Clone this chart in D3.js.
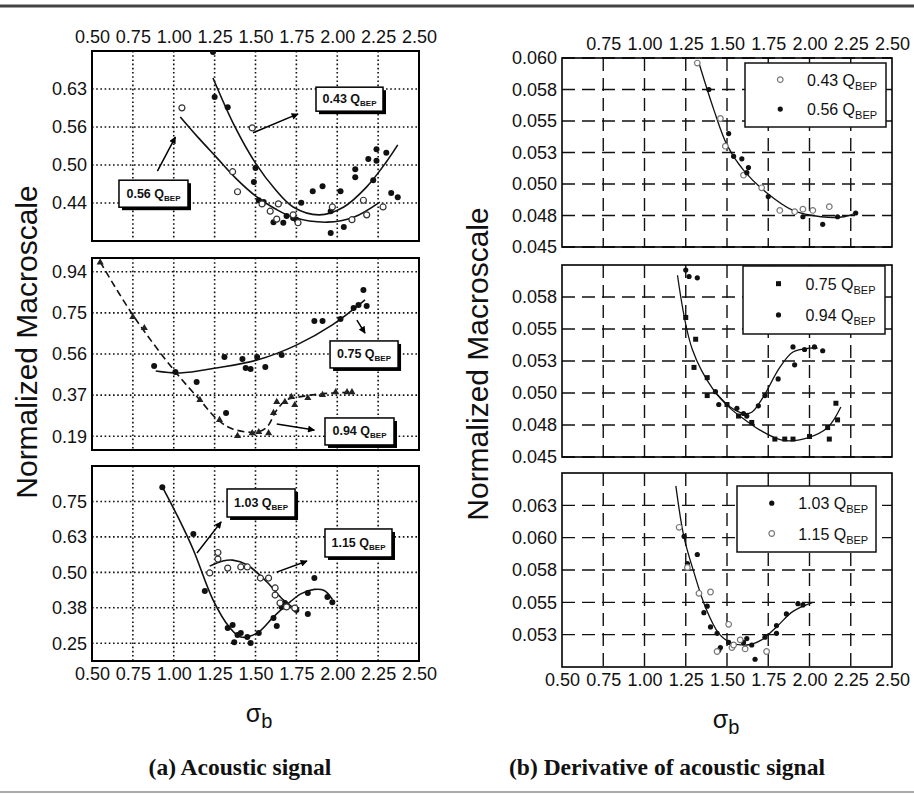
<!DOCTYPE html>
<html>
<head>
<meta charset="utf-8">
<script src="https://cdn.jsdelivr.net/npm/d3@7"></script>
<style>
  body { margin: 0; background: #fff; }
  svg { display: block; }
</style>
</head>
<body>
<script>
// sigma_b axis (shared by all six panels)
var sigmaTicks  = [0.5, 0.75, 1.0, 1.25, 1.5, 1.75, 2.0, 2.25, 2.5];
var sigmaLabels = ["0.50","0.75","1.00","1.25","1.50","1.75","2.00","2.25","2.50"];

// ---- (a) acoustic signal ----
var a1Ticks  = [0.4375, 0.5, 0.5625, 0.625];
var a1Labels = ["0.44", "0.50", "0.56", "0.63"];
var a1Q043 = [[1.24,0.686],[1.25,0.612],[1.33,0.595],[1.50,0.495],[1.49,0.472],[1.52,0.442],[1.55,0.439],
  [1.61,0.406],[1.67,0.405],[1.69,0.416],[1.73,0.413],[1.75,0.410],[1.78,0.438],[1.85,0.457],[1.91,0.465],
  [1.96,0.424],[1.96,0.388],[2.02,0.457],[2.04,0.398],[2.11,0.493],[2.11,0.480],[2.19,0.510],[2.24,0.526],
  [2.24,0.507],[2.30,0.520],[2.22,0.475],[2.33,0.454],[2.37,0.447]];
var a1Q043Fit = [[1.24,0.643],[1.37,0.565],[1.50,0.503],[1.62,0.460],[1.73,0.431],[1.89,0.418],
  [2.04,0.431],[2.18,0.464],[2.30,0.505],[2.37,0.533]];
var a1Q056 = [[1.05,0.594],[1.48,0.561],[1.36,0.489],[1.39,0.456],[1.54,0.436],[1.59,0.424],[1.64,0.436],
  [1.63,0.411],[1.73,0.418],[1.76,0.405],[1.97,0.431],[2.09,0.410],[2.16,0.442],[2.18,0.418],[2.28,0.431]];
var a1Q056Fit = [[1.04,0.579],[1.15,0.545],[1.26,0.513],[1.38,0.478],[1.51,0.447],[1.62,0.428],
  [1.73,0.414],[1.94,0.406],[2.10,0.414],[2.26,0.439]];

var a2Ticks  = [0.1875, 0.375, 0.5625, 0.75, 0.9375];
var a2Labels = ["0.19", "0.37", "0.56", "0.75", "0.94"];
var a2Q075 = [[0.88,0.508],[1.01,0.480],[1.14,0.435],[1.32,0.294],[1.31,0.549],[1.42,0.540],[1.44,0.499],
  [1.47,0.494],[1.51,0.549],[1.56,0.503],[1.66,0.558],[1.86,0.713],[1.91,0.713],[2.02,0.722],[2.10,0.772],
  [2.13,0.786],[2.16,0.854],[2.18,0.781]];
var a2Q075Fit = [[0.89,0.485],[1.04,0.476],[1.26,0.499],[1.51,0.535],[1.75,0.603],[1.97,0.695],[2.17,0.809]];
var a2Q094 = [[0.55,0.980],[0.75,0.731],[0.82,0.681],[1.16,0.353],[1.28,0.262],[1.39,0.189],[1.48,0.202],
  [1.52,0.207],[1.58,0.202],[1.61,0.294],[1.63,0.344],[1.68,0.344],[1.72,0.367],[1.74,0.330],[1.82,0.362],
  [1.91,0.376],[1.99,0.389],[2.06,0.389],[2.09,0.389]];
var a2Q094Fit = [[0.55,0.982],[0.75,0.740],[1.00,0.490],[1.16,0.353],[1.27,0.262],[1.36,0.221],[1.51,0.207],
  [1.57,0.230],[1.63,0.307],[1.69,0.353],[1.77,0.367],[1.89,0.380],[2.10,0.389]];

var a3Ticks  = [0.25, 0.375, 0.5, 0.625, 0.75];
var a3Labels = ["0.25", "0.38", "0.50", "0.63", "0.75"];
var a3Q103 = [[0.93,0.800],[1.12,0.635],[1.19,0.434],[1.33,0.304],[1.36,0.314],[1.37,0.254],[1.39,0.279],
  [1.41,0.286],[1.45,0.272],[1.47,0.251],[1.52,0.286],[1.61,0.339],[1.63,0.311],[1.66,0.378],[1.68,0.392],
  [1.75,0.367],[1.82,0.353],[1.86,0.480],[1.82,0.427],[1.94,0.413],[1.97,0.395]];
var a3Q103Fit = [[0.93,0.801],[1.03,0.690],[1.12,0.579],[1.24,0.403],[1.34,0.307],[1.41,0.272],[1.51,0.286],
  [1.61,0.343],[1.71,0.395],[1.78,0.425],[1.86,0.440],[1.92,0.436],[1.97,0.405]];
var a3Q115 = [[1.22,0.498],[1.27,0.570],[1.27,0.547],[1.33,0.515],[1.41,0.519],[1.45,0.519],[1.53,0.480],
  [1.58,0.480],[1.62,0.445],[1.62,0.420],[1.65,0.392],[1.69,0.378],[1.74,0.374]];
var a3Q115Fit = [[1.22,0.522],[1.30,0.540],[1.36,0.543],[1.45,0.526],[1.57,0.466],[1.67,0.403],[1.75,0.367]];

// ---- (b) derivative of acoustic signal ----
var b1Ticks  = [0.045, 0.0475, 0.05, 0.0525, 0.055, 0.0575, 0.06];
var b1Labels = ["0.045","0.048","0.050","0.053","0.055","0.058","0.060"];
var b1Q043 = [[1.32,0.0596],[1.46,0.0552],[1.49,0.0530],[1.60,0.0507],[1.71,0.0497],[1.82,0.0479],
  [1.91,0.0478],[1.96,0.0480],[2.02,0.0479],[2.12,0.0482]];
var b1Q056 = [[1.39,0.0575],[1.51,0.0540],[1.54,0.0522],[1.59,0.0520],[1.63,0.0513],[1.62,0.0509],
  [1.75,0.0490],[1.96,0.0474],[2.08,0.0468],[2.17,0.0474],[2.28,0.0477]];
var b1Fit = [[1.33,0.0596],[1.42,0.0559],[1.50,0.0531],[1.60,0.0511],[1.74,0.0493],[1.90,0.0479],
  [2.07,0.0474],[2.21,0.0474],[2.28,0.0477]];

var b2Ticks  = [0.045, 0.0475, 0.05, 0.0525, 0.055, 0.0575];
var b2Labels = ["0.045","0.048","0.050","0.053","0.055","0.058"];
var b2Q075 = [[1.25,0.0559],[1.31,0.0542],[1.30,0.0520],[1.38,0.0512],[1.38,0.0498],[1.50,0.0491],
  [1.57,0.0482],[1.65,0.0477],[1.79,0.0464],[1.85,0.0464],[1.90,0.0464],[2.00,0.0466],[2.11,0.0473],
  [2.12,0.0464],[2.17,0.0479],[2.16,0.0492]];
var b2Q075Fit = [[1.20,0.0592],[1.29,0.0534],[1.42,0.0502],[1.52,0.0488],[1.62,0.0478],[1.70,0.0471],
  [1.84,0.0463],[1.99,0.0465],[2.11,0.0473],[2.19,0.0489]];
var b2Q094 = [[1.25,0.0596],[1.27,0.0591],[1.32,0.0590],[1.43,0.0501],[1.45,0.0491],[1.56,0.0488],
  [1.60,0.0484],[1.62,0.0482],[1.69,0.0490],[1.73,0.0498],[1.81,0.0511],[1.90,0.0536],[1.91,0.0522],
  [1.97,0.0534],[2.03,0.0536],[2.08,0.0533]];
var b2Q094Fit = [[1.42,0.0502],[1.52,0.0489],[1.60,0.0484],[1.65,0.0485],[1.72,0.0497],[1.82,0.0520],
  [1.90,0.0532],[2.00,0.0535],[2.05,0.0535]];

var b3Ticks  = [0.0525, 0.055, 0.0575, 0.06, 0.0625];
var b3Labels = ["0.053","0.055","0.058","0.060","0.063"];
var b3Q103 = [[1.24,0.0601],[1.26,0.0580],[1.32,0.0587],[1.36,0.0542],[1.38,0.0547],[1.40,0.0531],
  [1.44,0.0526],[1.45,0.0513],[1.46,0.0515],[1.51,0.0519],[1.60,0.0519],[1.62,0.0522],[1.65,0.0517],
  [1.67,0.0506],[1.73,0.0523],[1.80,0.0526],[1.80,0.0532],[1.86,0.0541],[1.93,0.0549],[1.96,0.0548]];
var b3Q115 = [[1.21,0.0608],[1.26,0.0577],[1.33,0.0557],[1.40,0.0558],[1.51,0.0533],[1.44,0.0512],
  [1.53,0.0515],[1.54,0.0517],[1.58,0.0521],[1.61,0.0514],[1.74,0.0512]];
var b3Fit = [[1.19,0.0640],[1.24,0.0600],[1.30,0.0573],[1.37,0.0546],[1.45,0.0526],[1.52,0.0519],
  [1.62,0.0517],[1.71,0.0521],[1.80,0.0531],[1.90,0.0543],[2.02,0.0550]];

// -------------------------------------------------------------------------
var svg = d3.select("body").append("svg").attr("width", 914).attr("height", 796);
var FONT = "'Liberation Sans', Arial, sans-serif";

// arrow head for the callouts
svg.append("defs").append("marker")
  .attr("id", "head").attr("viewBox", "0 0 10 10")
  .attr("refX", 9).attr("refY", 5)
  .attr("markerWidth", 9).attr("markerHeight", 7)
  .attr("markerUnits", "userSpaceOnUse").attr("orient", "auto")
  .append("path").attr("d", "M0,0 L10,5 L0,10 Z").attr("fill", "#000");

// frame lines
svg.append("line").attr("x1", 0).attr("x2", 914).attr("y1", 6).attr("y2", 6)
  .attr("stroke", "#444").attr("stroke-width", 3);
svg.append("line").attr("x1", 0).attr("x2", 914).attr("y1", 792).attr("y2", 792)
  .attr("stroke", "#aaa").attr("stroke-width", 2);

var panels = [
  {id:"a1", left:92, right:419, top:51, bottom:241, yDomain:[0.375,0.6875], ticks:a1Ticks, labels:a1Labels,
   xTop:sigmaTicks, grid:"dot",
   series:[{pts:a1Q043, fit:a1Q043Fit, mk:"dot"}, {pts:a1Q056, fit:a1Q056Fit, mk:"open"}],
   notes:[{q:"0.43", at:[1.87,0.628], w:67, h:24, arrow:[[1.485,0.553],[1.76,0.584]]},
          {q:"0.56", at:[0.665,0.475], w:69, h:27, arrow:[[0.90,0.490],[1.01,0.546]]}]},
  {id:"a2", left:92, right:419, top:258, bottom:450, yDomain:[0.125,1.0], ticks:a2Ticks, labels:a2Labels,
   grid:"dot",
   series:[{pts:a2Q075, fit:a2Q075Fit, mk:"dot"}, {pts:a2Q094, fit:a2Q094Fit, mk:"tri", dash:"7,4"}],
   notes:[{q:"0.75", at:[1.956,0.622], w:68, h:27, arrow:[[2.12,0.717],[2.17,0.658]]},
          {q:"0.94", at:[1.925,0.271], w:69, h:27, arrow:[[1.63,0.243],[1.86,0.216]]}]},
  {id:"a3", left:92, right:419, top:466, bottom:661, yDomain:[0.1875,0.875], ticks:a3Ticks, labels:a3Labels,
   xBottom:sigmaTicks, grid:"dot",
   series:[{pts:a3Q103, fit:a3Q103Fit, mk:"dot"}, {pts:a3Q115, fit:a3Q115Fit, mk:"open"}],
   notes:[{q:"1.03", at:[1.326,0.794], w:68, h:28, arrow:[[1.142,0.568],[1.29,0.678]]},
          {q:"1.15", at:[1.925,0.653], w:67, h:28, arrow:[[1.63,0.501],[1.815,0.540]]}]},
  {id:"b1", left:562, right:892, top:58, bottom:247, yDomain:[0.045,0.060], ticks:b1Ticks, labels:b1Labels,
   xTop:sigmaTicks.slice(1), grid:"dash", fits:[b1Fit],
   series:[{pts:b1Q043, mk:"ring", q:"0.43"}, {pts:b1Q056, mk:"small", q:"0.56"}],
   legend:{x:183, y:5, w:141, h:64}},
  {id:"b2", left:562, right:892, top:265, bottom:457, yDomain:[0.045,0.060], ticks:b2Ticks, labels:b2Labels,
   grid:"dash", fits:[b2Q075Fit, b2Q094Fit],
   series:[{pts:b2Q075, mk:"square", q:"0.75"}, {pts:b2Q094, mk:"small", q:"0.94"}],
   legend:{x:181, y:1, w:142, h:68}},
  {id:"b3", left:562, right:892, top:473, bottom:667, yDomain:[0.050,0.065], ticks:b3Ticks, labels:b3Labels,
   xBottom:sigmaTicks, grid:"dash", fits:[b3Fit],
   series:[{pts:b3Q103, mk:"small", q:"1.03"}, {pts:b3Q115, mk:"ring", q:"1.15"}],
   legend:{x:175, y:13, w:139, h:66}}
];

function sigmaLabel(d) { return sigmaLabels[sigmaTicks.indexOf(d)]; }

function marker(sel, mk) {
  if (mk === "dot") {
    sel.append("circle").attr("r", 3).attr("fill", "#111");
  } else if (mk === "open") {
    sel.append("circle").attr("r", 3).attr("fill", "#fff").attr("stroke", "#333").attr("stroke-width", 1.2);
  } else if (mk === "ring") {
    sel.append("circle").attr("r", 2.8).attr("fill", "#fff").attr("stroke", "#777").attr("stroke-width", 1.2);
  } else if (mk === "square") {
    sel.append("rect").attr("x", -2.5).attr("y", -2.5).attr("width", 5).attr("height", 5).attr("fill", "#111");
  } else if (mk === "tri") {
    sel.append("path").attr("d", d3.symbol(d3.symbolTriangle, 22)).attr("fill", "#222");
  } else {
    sel.append("circle").attr("r", 2.6).attr("fill", "#111");
  }
}

panels.forEach(function (p) {
  var w = p.right - p.left, h = p.bottom - p.top;
  var x = d3.scaleLinear().domain([0.5, 2.5]).range([0, w]);
  var y = d3.scaleLinear().domain(p.yDomain).range([h, 0]);
  var g = svg.append("g").attr("transform", "translate(" + p.left + "," + p.top + ")");

  g.append("clipPath").attr("id", "clip-" + p.id)
    .append("rect").attr("width", w).attr("height", h);

  // grid
  var dash = p.grid === "dot" ? "1.6,2.6" : "13,7";
  var gw = p.grid === "dot" ? 1.6 : 1.4;
  g.append("g").selectAll("line").data(sigmaTicks.slice(1, -1)).enter().append("line")
    .attr("x1", function (d) { return x(d); }).attr("x2", function (d) { return x(d); })
    .attr("y1", 0).attr("y2", h)
    .attr("stroke", "#111").attr("stroke-width", gw).attr("stroke-dasharray", dash);
  g.append("g").selectAll("line").data(p.ticks).enter().append("line")
    .attr("x1", 0).attr("x2", w)
    .attr("y1", function (d) { return y(d); }).attr("y2", function (d) { return y(d); })
    .attr("stroke", "#111").attr("stroke-width", gw).attr("stroke-dasharray", dash);

  g.append("rect").attr("width", w).attr("height", h)
    .attr("fill", "none").attr("stroke", "#000").attr("stroke-width", p.grid === "dot" ? 2 : 1.6);

  // tick labels
  g.append("g").call(d3.axisLeft(y).tickValues(p.ticks)
    .tickFormat(function (d, i) { return p.labels[i]; }).tickSize(0).tickPadding(5));
  if (p.xTop) {
    g.append("g").call(d3.axisTop(x).tickValues(p.xTop).tickFormat(sigmaLabel).tickSize(0).tickPadding(8));
  }
  if (p.xBottom) {
    g.append("g").attr("transform", "translate(0," + h + ")")
      .call(d3.axisBottom(x).tickValues(p.xBottom).tickFormat(sigmaLabel).tickSize(0).tickPadding(6));
  }
  g.selectAll(".domain").remove();
  g.selectAll(".tick text").attr("font-size", 18).attr("font-family", FONT).attr("fill", "#111");

  var line = d3.line().x(function (d) { return x(d[0]); }).y(function (d) { return y(d[1]); })
    .curve(d3.curveCatmullRom.alpha(0.5));
  var plot = g.append("g").attr("clip-path", "url(#clip-" + p.id + ")");

  var fits = p.fits || p.series.map(function (s) { return s.fit; });
  fits.forEach(function (f, i) {
    var s = p.series[i] || {};
    plot.append("path").datum(f).attr("d", line).attr("fill", "none")
      .attr("stroke", "#111").attr("stroke-width", p.grid === "dot" ? 1.6 : 1.3)
      .attr("stroke-dasharray", p.fits ? null : (s.dash || null));
  });

  p.series.forEach(function (s) {
    var pts = plot.append("g").selectAll("g").data(s.pts).enter().append("g")
      .attr("transform", function (d) { return "translate(" + x(d[0]) + "," + y(d[1]) + ")"; });
    marker(pts, s.mk);
  });

  // callout boxes for panel (a)
  (p.notes || []).forEach(function (n) {
    g.append("line")
      .attr("x1", x(n.arrow[0][0])).attr("y1", y(n.arrow[0][1]))
      .attr("x2", x(n.arrow[1][0])).attr("y2", y(n.arrow[1][1]))
      .attr("stroke", "#000").attr("stroke-width", 1.5).attr("marker-end", "url(#head)");
    var bx = x(n.at[0]), by = y(n.at[1]);
    g.append("rect").attr("x", bx + 3).attr("y", by + 3).attr("width", n.w).attr("height", n.h).attr("fill", "#000");
    g.append("rect").attr("x", bx).attr("y", by).attr("width", n.w).attr("height", n.h)
      .attr("fill", "#fff").attr("stroke", "#000").attr("stroke-width", 1.5);
    var t = g.append("text").attr("x", bx + n.w / 2).attr("y", by + n.h / 2 + 4)
      .attr("text-anchor", "middle").attr("font-family", FONT).attr("font-weight", "bold")
      .attr("font-size", 12.5).attr("fill", "#111");
    t.append("tspan").text(n.q + " Q");
    t.append("tspan").attr("font-size", 8).attr("dy", 3).text("BEP");
  });

  // legend for panel (b)
  if (p.legend) {
    var L = p.legend;
    var lg = g.append("g").attr("transform", "translate(" + L.x + "," + L.y + ")");
    lg.append("rect").attr("width", L.w).attr("height", L.h)
      .attr("fill", "#fff").attr("stroke", "#111").attr("stroke-width", 1.5);
    p.series.forEach(function (s, i) {
      var row = lg.append("g").attr("transform", "translate(0," + (L.h * (0.26 + i * 0.46)) + ")");
      marker(row.append("g").attr("transform", "translate(" + (L.w * 0.25) + ",0)"), s.mk);
      var t = row.append("text").attr("x", L.w * 0.44).attr("y", 6)
        .attr("font-family", FONT).attr("font-size", 16).attr("fill", "#111");
      t.append("tspan").text(s.q + " Q");
      t.append("tspan").attr("font-size", 11).attr("dy", 4).text("BEP");
    });
  }
});

// axis titles and captions
[{x:37, y:342}, {x:488, y:364}].forEach(function (d) {
  svg.append("text").attr("transform", "translate(" + d.x + "," + d.y + ") rotate(-90)")
    .attr("text-anchor", "middle").attr("font-family", FONT).attr("font-size", 30).attr("fill", "#111")
    .text("Normalized Macroscale");
});
[{x:259, y:722}, {x:726, y:728}].forEach(function (d) {
  var t = svg.append("text").attr("x", d.x).attr("y", d.y).attr("text-anchor", "middle")
    .attr("font-family", FONT).attr("font-size", 25).attr("fill", "#111");
  t.append("tspan").text("σ");
  t.append("tspan").attr("font-size", 20).attr("dy", 6).text("b");
});
[{x:240, t:"(a) Acoustic signal"}, {x:667, t:"(b) Derivative of acoustic signal"}].forEach(function (d) {
  svg.append("text").attr("x", d.x).attr("y", 775).attr("text-anchor", "middle")
    .attr("font-family", "'Liberation Serif', 'Times New Roman', serif").attr("font-weight", "bold")
    .attr("font-size", 23.5).attr("fill", "#111").text(d.t);
});
</script>
</body>
</html>
